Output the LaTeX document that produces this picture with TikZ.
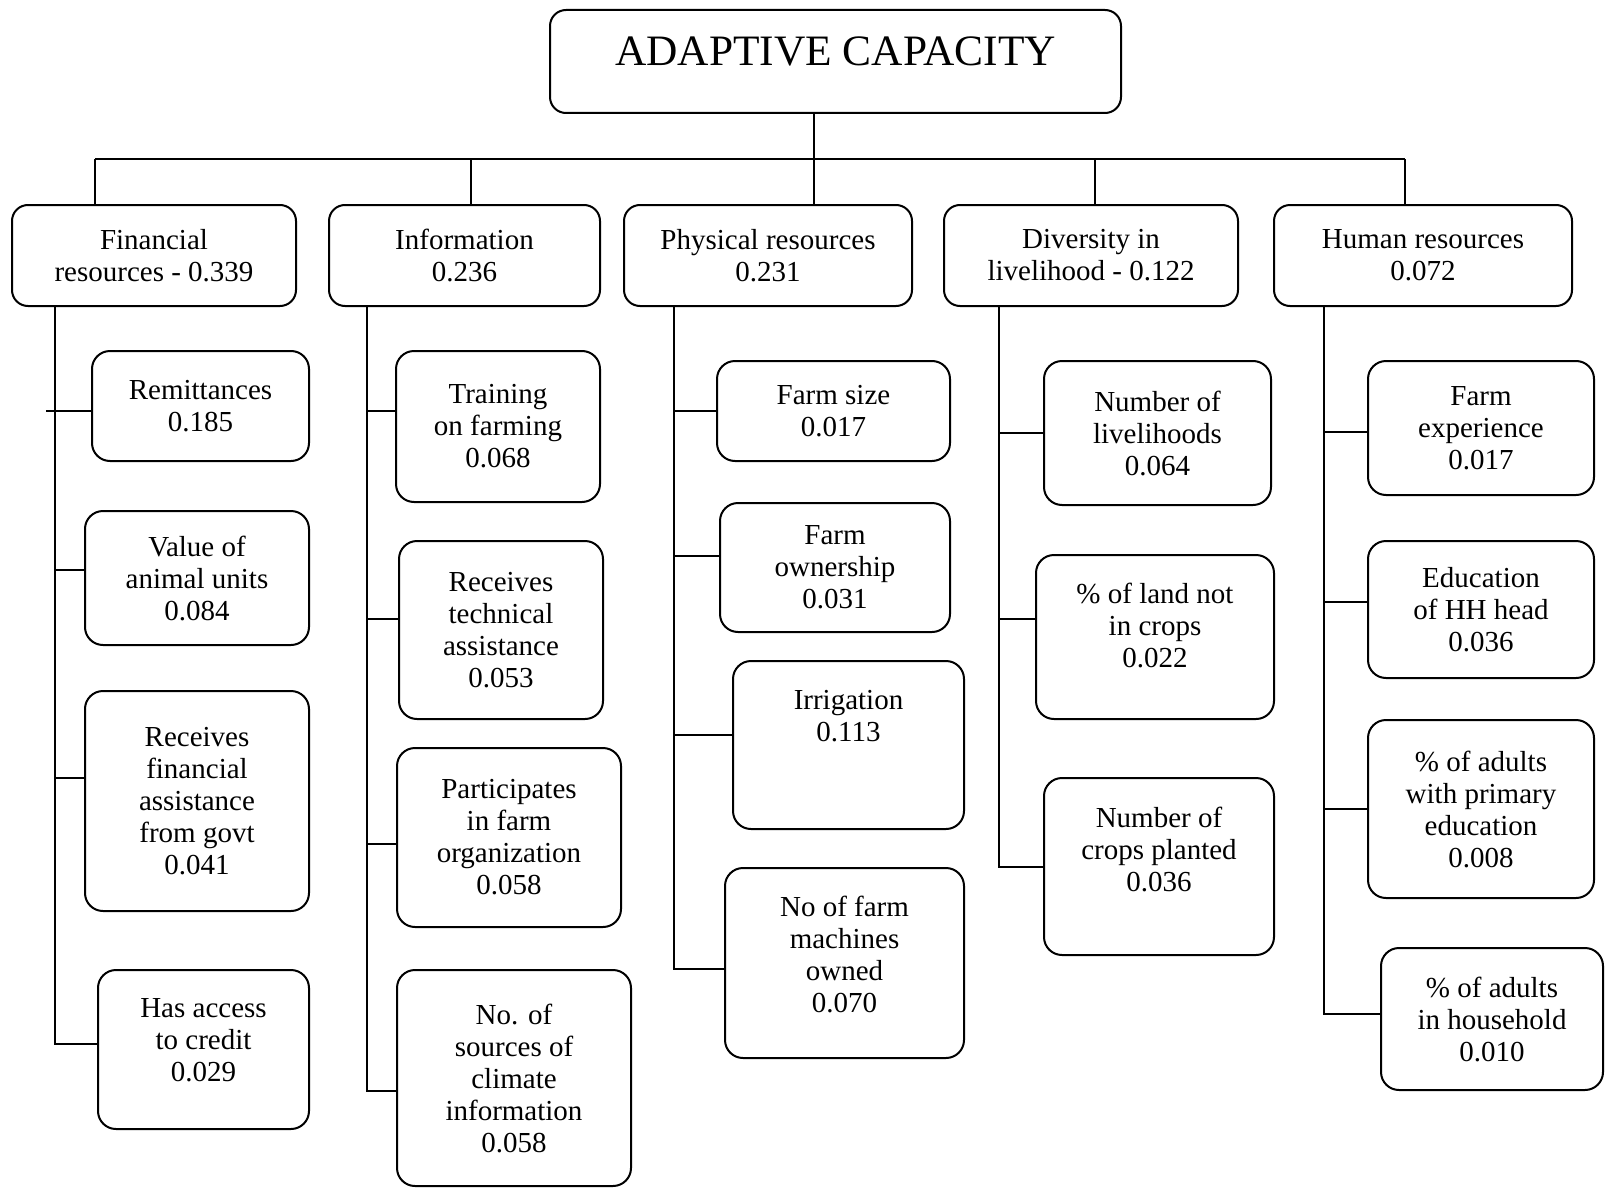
\documentclass[tikz,border=0pt]{standalone}
\usepackage{fontspec}
\setmainfont{Liberation Serif}
\usetikzlibrary{calc}

\begin{document}
\begin{tikzpicture}[
        x=0.5pt, y=-0.5pt,
        line width=1pt,
        top/.style={
            rectangle,
            draw,
            rounded corners=8pt,
            minimum width=285.5pt,
            minimum height=51.5pt,
            inner sep=0pt
        },
        group/.style={
            rectangle,
            draw,
            rounded corners=8pt,
            align=center,
            minimum height=50.5pt,
            font=\fontsize{14.5}{16}\selectfont,
            inner sep=0pt
        },
        item/.style={
            rectangle,
            draw,
            rounded corners=9pt,
            align=center,
            font=\fontsize{14.5}{16}\selectfont,
            inner sep=0pt
        },
        lbl/.style={
            align=center,
            font=\fontsize{14.5}{16}\selectfont,
            inner sep=0pt
        },
        link/.style={
            line width=1pt
        }
    ]

        \useasboundingbox (0,0) rectangle (1605,1188);

        % top box
        \node[top, label={[lbl, font=\fontsize{21.7}{24}\selectfont, yshift=5.25pt]center:ADAPTIVE CAPACITY}] (title) at (835.5,61.5) {};

        % second level
        \node[group, minimum width=142pt] (fin) at (154,255.5) {Financial\\resources - 0.339};
        \node[group, minimum width=135.5pt] (info) at (464.5,255.5) {Information\\0.236};
        \node[group, minimum width=144pt] (phys) at (768,255.5) {Physical resources\\0.231};
        \node[group, minimum width=147pt] (div) at (1091,255.5) {Diversity in\\livelihood - 0.122};
        \node[group, minimum width=149pt] (hum) at (1423,255.5) {Human resources\\0.072};

        % financial resources
        \node[item, minimum width=108.5pt, minimum height=55pt] (remit) at (200.5,406) {Remittances\\0.185};
        \node[item, minimum width=112pt, minimum height=67pt] (animal) at (197,578) {Value of\\animal units\\0.084};
        \node[item, minimum width=112pt, minimum height=110pt] (govt) at (197,801) {Receives\\financial\\assistance\\from govt\\0.041};
        \node[item, minimum width=105.5pt, minimum height=79.5pt,
            label={[lbl, yshift=4.75pt]center:{Has access\\to credit\\0.029}}] (credit) at (203.5,1049.5) {};

        % information
        \node[item, minimum width=102pt, minimum height=75.5pt] (train) at (498,426.5) {Training\\on farming\\0.068};
        \node[item, minimum width=102pt, minimum height=89pt] (tech) at (501,630) {Receives\\technical\\assistance\\0.053};
        \node[item, minimum width=112pt, minimum height=89.5pt] (org) at (509,837.5) {Participates\\in farm\\organization\\0.058};
        \node[item, minimum width=117pt, minimum height=108pt] (clim) at (514,1078) {No. of\\sources of\\climate\\information\\0.058};

        % physical resources
        \node[item, minimum width=116.5pt, minimum height=50pt] (fsize) at (833.5,411) {Farm size\\0.017};
        \node[item, minimum width=115pt, minimum height=64.5pt] (fown) at (835,567.5) {Farm\\ownership\\0.031};
        \node[item, minimum width=115.5pt, minimum height=84pt,
            label={[lbl, yshift=14.5pt]center:{Irrigation\\0.113}}] (irr) at (848.5,745) {};
        \node[item, minimum width=119.5pt, minimum height=95pt,
            label={[lbl, yshift=4.5pt]center:{No of farm\\machines\\owned\\0.070}}] (mach) at (844.5,963) {};

        % diversity in livelihood
        \node[item, minimum width=113.5pt, minimum height=72pt] (nliv) at (1157.5,433) {Number of\\livelihoods\\0.064};
        \node[item, minimum width=119pt, minimum height=82pt,
            label={[lbl, yshift=6pt]center:{\% of land not\\in crops\\0.022}}] (land) at (1155,637) {};
        \node[item, minimum width=115pt, minimum height=88.5pt,
            label={[lbl, yshift=8.75pt]center:{Number of\\crops planted\\0.036}}] (crops) at (1159,866.5) {};

        % human resources
        \node[item, minimum width=113pt, minimum height=67pt] (fexp) at (1481,428) {Farm\\experience\\0.017};
        \node[item, minimum width=113pt, minimum height=68.5pt] (educ) at (1481,609.5) {Education\\of HH head\\0.036};
        \node[item, minimum width=113pt, minimum height=89pt] (prim) at (1481,809) {\% of adults\\with primary\\education\\0.008};
        \node[item, minimum width=111pt, minimum height=71pt] (house) at (1492,1019) {\% of adults\\in household\\0.010};

        % bus below the top box
        \coordinate (bfin) at (95,159);
        \coordinate (binfo) at (471,159);
        \coordinate (bphys) at (814,159);
        \coordinate (bdiv) at (1095,159);
        \coordinate (bhum) at (1405,159);

        \draw[link] (title.south -| bphys) -- (bphys);
        \draw[link] (bfin) -- (bhum);
        \draw[link] (bfin) -- (bfin |- fin.north);
        \draw[link] (binfo) -- (binfo |- info.north);
        \draw[link] (bphys) -- (bphys |- phys.north);
        \draw[link] (bdiv) -- (bdiv |- div.north);
        \draw[link] (bhum) -- (bhum |- hum.north);

        % spines
        \coordinate (sfin) at (55,0);
        \coordinate (sinfo) at (367,0);
        \coordinate (sphys) at (674,0);
        \coordinate (sdiv) at (999,0);
        \coordinate (shum) at (1324,0);

        \draw[link] (sfin |- fin.south) -- (sfin |- {$(credit.west)+(0,2.75pt)$}) -- ([yshift=2.75pt]credit.west);
        \draw[link] ($(sfin |- remit.west)+(-4.5pt,-2.5pt)$) -- ([yshift=-2.5pt]remit.west);
        \draw[link] ([yshift=4pt]sfin |- animal.west) -- ([yshift=4pt]animal.west);
        \draw[link] ([yshift=11.5pt]sfin |- govt.west) -- ([yshift=11.5pt]govt.west);

        \draw[link] (sinfo |- info.south) -- (sinfo |- {$(clim.west)+(0,-6.5pt)$}) -- ([yshift=-6.5pt]clim.west);
        \draw[link] ([yshift=7.75pt]sinfo |- train.west) -- ([yshift=7.75pt]train.west);
        \draw[link] ([yshift=5.5pt]sinfo |- tech.west) -- ([yshift=5.5pt]tech.west);
        \draw[link] ([yshift=-3.25pt]sinfo |- org.west) -- ([yshift=-3.25pt]org.west);

        \draw[link] (sphys |- phys.south) -- (sphys |- {$(mach.west)+(0,-3pt)$}) -- ([yshift=-3pt]mach.west);
        \draw[link] (sphys |- fsize.west) -- (fsize.west);
        \draw[link] ([yshift=6pt]sphys |- fown.west) -- ([yshift=6pt]fown.west);
        \draw[link] ([yshift=5pt]sphys |- irr.west) -- ([yshift=5pt]irr.west);

        \draw[link] (sdiv |- div.south) -- (sdiv |- crops.west) -- (crops.west);
        \draw[link] (sdiv |- nliv.west) -- (nliv.west);
        \draw[link] ([yshift=9pt]sdiv |- land.west) -- ([yshift=9pt]land.west);

        \draw[link] (shum |- hum.south) -- (shum |- {$(house.west)+(0,2.5pt)$}) -- ([yshift=2.5pt]house.west);
        \draw[link] ([yshift=-2pt]shum |- fexp.west) -- ([yshift=-2pt]fexp.west);
        \draw[link] ([yshift=4pt]shum |- educ.west) -- ([yshift=4pt]educ.west);
        \draw[link] (shum |- prim.west) -- (prim.west);

    \end{tikzpicture}
\end{document}
